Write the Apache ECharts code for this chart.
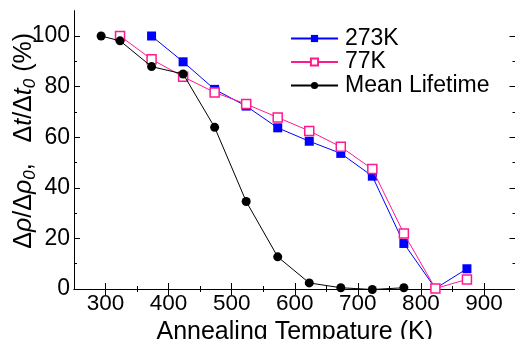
<!DOCTYPE html>
<html>
<head>
<meta charset="utf-8">
<script src="https://cdn.jsdelivr.net/npm/echarts@6/dist/echarts.min.js"></script>
<style>
html,body{margin:0;padding:0;background:#fff;}
#c{width:515px;height:339px;}
</style>
</head>
<body>
<div id="c"></div>
<script>
// ---- data ----
const temps273 = [373, 423, 473, 523, 573, 623, 673, 723, 773, 823, 873];
const vals273  = [100, 89.8, 78.9, 72.3, 63.7, 58.4, 53.6, 44.6, 18.0, 0.2, 8.0];
const temps77  = [323, 373, 423, 473, 523, 573, 623, 673, 723, 773, 823, 873];
const vals77   = [100, 90.8, 83.9, 77.7, 73.1, 67.8, 62.5, 56.2, 47.4, 21.9, 0.2, 3.8];
const tempsLife = [293, 323, 373, 423, 473, 523, 573, 623, 673, 723, 773];
const valsLife  = [100, 98.1, 87.9, 85.0, 63.9, 34.6, 12.7, 2.4, 0.5, -0.2, 0.5];
const xMajor = [300, 400, 500, 600, 700, 800, 900];
const xMinor = [350, 450, 550, 650, 750, 850];
const yMajor = [0, 20, 40, 60, 80, 100];
const yMinor = [10, 30, 50, 70, 90];
const seriesNames = ['273K', '77K', 'Mean Lifetime'];

const FONT = 'Liberation Sans, Arial, sans-serif';
const pair = (xs, ys) => xs.map((x, i) => [x, ys[i]]);

function xAx(pos, ticks, len, labels, line) {
  return {
    type: 'value', min: 250, max: 950, position: pos,
    axisLine: {show: line, lineStyle: {color: '#000', width: 1}},
    axisTick: {show: true, inside: true, length: len, customValues: ticks, lineStyle: {color: '#000'}},
    axisLabel: labels ? {show: true, customValues: ticks, fontSize: 22.5, color: '#000', fontFamily: FONT, margin: 3} : {show: false},
    splitLine: {show: false}
  };
}
function yAx(pos, ticks, len, labels, line) {
  return {
    type: 'value', min: 0, max: 110, position: pos,
    axisLine: {show: line, lineStyle: {color: '#000', width: 1}},
    axisTick: {show: true, inside: true, length: len, customValues: ticks, lineStyle: {color: '#000'}},
    axisLabel: labels ? {show: true, customValues: ticks, fontSize: 23, color: '#000', fontFamily: FONT, margin: 4} : {show: false},
    splitLine: {show: false}
  };
}

const xMain = xAx('bottom', xMajor, 6, true, true);
xMain.name = 'Annealing Tempature (K)';
xMain.nameLocation = 'middle';
xMain.nameGap = 22;
xMain.nameTextStyle = {fontSize: 25, color: '#000', fontFamily: FONT};

const yMain = yAx('left', yMajor, 6, true, true);
yMain.name = '{n|Δ}{i|ρ}{n|/Δ}{i|ρ}{s|0}{n|,   Δ}{i|t}{n|/Δ}{i|t}{s|0}{n| (%)}';
yMain.nameLocation = 'middle';
yMain.nameRotate = 90;
yMain.nameGap = 35;
yMain.nameMoveOverlap = false;
yMain.nameTextStyle = {
  fontSize: 25, color: '#000', fontFamily: FONT, padding: [0, 0, 0, 18],
  rich: {
    n: {fontSize: 25, fontFamily: FONT, color: '#000', lineHeight: 30, verticalAlign: 'middle'},
    i: {fontSize: 25, fontFamily: FONT, fontStyle: 'italic', color: '#000', lineHeight: 30, verticalAlign: 'middle'},
    s: {fontSize: 17, fontFamily: FONT, fontStyle: 'italic', color: '#000', lineHeight: 30, verticalAlign: 'bottom'}
  }
};

const chart = echarts.init(document.getElementById('c'), null, {renderer: 'canvas'});
chart.setOption({
  animation: false,
  backgroundColor: '#fff',
  grid: {left: 74, top: 10.7, width: 441.5, height: 278.3, containLabel: false, outerBoundsMode: 'none'},
  legend: {
    orient: 'vertical', left: 290, top: 27, padding: 0,
    itemWidth: 47, itemHeight: 9, itemGap: 0.5,
    textStyle: {fontSize: 23, lineHeight: 23, color: '#000', fontFamily: FONT, padding: [0, 0, 0, 2]},
    data: seriesNames
  },
  xAxis: [
    xMain,
    xAx('bottom', xMinor, 3, false, false),
    xAx('top', xMajor, 6, false, true),
    xAx('top', xMinor, 3, false, false)
  ],
  yAxis: [
    yMain,
    yAx('left', yMinor, 3, false, false),
    yAx('right', yMajor, 6, false, true),
    yAx('right', yMinor, 3, false, false)
  ],
  series: [
    {
      name: seriesNames[0], type: 'line', data: pair(temps273, vals273),
      symbol: 'rect', symbolSize: 9, clip: false,
      lineStyle: {color: '#0000ff', width: 1},
      itemStyle: {color: '#0000ff', borderColor: '#0000ff', borderWidth: 0},
      z: 3
    },
    {
      name: seriesNames[1], type: 'line', data: pair(temps77, vals77),
      symbol: 'rect', symbolSize: 9, clip: false,
      lineStyle: {color: '#ff1a8c', width: 1},
      itemStyle: {color: '#fff', borderColor: '#ff1a8c', borderWidth: 1.5},
      z: 4
    },
    {
      name: seriesNames[2], type: 'line', data: pair(tempsLife, valsLife),
      symbol: 'circle', symbolSize: 9, clip: false,
      lineStyle: {color: '#000', width: 1},
      itemStyle: {color: '#000', borderColor: '#000', borderWidth: 0},
      z: 5
    }
  ]
});
</script>
</body>
</html>
